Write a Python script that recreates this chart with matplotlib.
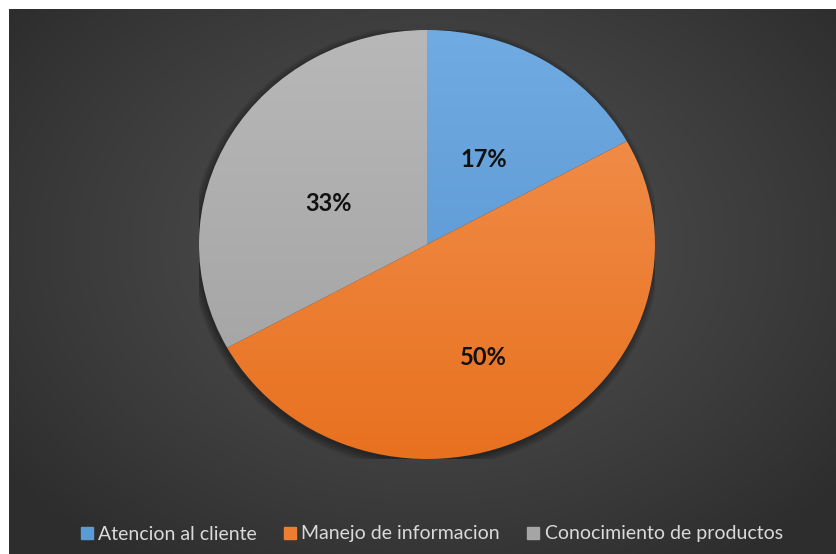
import numpy as np
import matplotlib
matplotlib.use("Agg")
import matplotlib.pyplot as plt
from matplotlib.colors import LinearSegmentedColormap
from matplotlib.patches import Ellipse
from matplotlib.lines import Line2D

# Data
categories = ["Atencion al cliente", "Manejo de informacion", "Conocimiento de productos"]
shares = [17, 50, 33]
labels_text = ["17%", "50%", "33%"]

# Slice colours: (light at top, dark at bottom)
slice_colors = [("#70abe2", "#5490cc"), ("#f39454", "#e8711f"), ("#b8b8b8", "#a0a0a0")]
legend_colors = ["#5b9bd5", "#ed7d31", "#a5a5a5"]
# label placement: radial distance and angular nudge (degrees, clockwise)
label_dist = [0.47, 0.58, 0.475]
label_turn = [1.4, 3.6, -6.6]

W, H = 836, 554
fig = plt.figure(figsize=(W / 100, H / 100), dpi=100)
fig.patch.set_facecolor("white")

# Dark radial-gradient panel
bg = fig.add_axes([9 / W, 0, 1 - 9 / W, 1 - 9 / H])
bg.set_axis_off()
yy, xx = np.mgrid[0:545, 0:827]
cx, cy = 420, 236
d = np.sqrt(((xx - cx) / 520.0) ** 2 + ((yy - cy) / 380.0) ** 2)
d = np.clip(d, 0, 1)
lum = 0.31 - 0.13 * d ** 1.3
bg.imshow(np.dstack([lum, lum, lum]), aspect="auto", extent=(0, 1, 0, 1), origin="upper")
bg.set_xlim(0, 1)
bg.set_ylim(0, 1)

# Pie axes (ellipse spans the full axes box)
ax = fig.add_axes([199 / W, (H - 459) / H, 456 / W, 429 / H])
ax.set_axis_off()

# soft shadow
for i in range(6):
    ax.add_patch(Ellipse((-0.006, -0.012), 2 + 0.012 * i, 2 + 0.014 * i,
                         facecolor="black", edgecolor="none", alpha=0.07, zorder=0))

wedges, texts, autotexts = ax.pie(
    shares, startangle=90, counterclock=False, radius=1.0,
    autopct="%1.0f%%", pctdistance=0.5,
    wedgeprops=dict(edgecolor="none", linewidth=0),
)
ax.set_aspect("auto")

grad = np.linspace(0, 1, 256).reshape(-1, 1)
for w, (light, dark) in zip(wedges, slice_colors):
    w.set_facecolor("none")
    cmap = LinearSegmentedColormap.from_list("g", [dark, light])
    im = ax.imshow(grad, cmap=cmap, extent=(-1, 1, -1, 1), origin="lower",
                   aspect="auto", zorder=1, interpolation="bilinear")
    im.set_clip_path(w)

# Percentage labels
theta = 90.0
total = float(sum(shares))
for t, s, lab, dist, turn in zip(autotexts, shares, labels_text, label_dist, label_turn):
    span = 360.0 * s / total
    mid = np.deg2rad(theta - span / 2 - turn)
    theta -= span
    t.set_position((dist * np.cos(mid), dist * np.sin(mid)))
    t.set_text(lab)
    t.set_fontfamily("Lato")
    t.set_fontweight("bold")
    t.set_fontsize(17)
    t.set_color("#111111")
    t.set_zorder(5)

ax.set_xlim(-1, 1)
ax.set_ylim(-1, 1)

# Legend
handles = [Line2D([0], [0], marker="s", linestyle="none", markersize=8,
                  markerfacecolor=c, markeredgecolor=c) for c in legend_colors]
leg = fig.legend(handles, categories, loc="center", bbox_to_anchor=(432 / W, (H - 534) / H),
                 ncol=3, frameon=False, handlelength=0.55, handletextpad=0.3,
                 columnspacing=1.45, prop={"family": "Lato", "size": 14})
for txt in leg.get_texts():
    txt.set_color("#dadada")

fig.savefig("out.png", dpi=100)
